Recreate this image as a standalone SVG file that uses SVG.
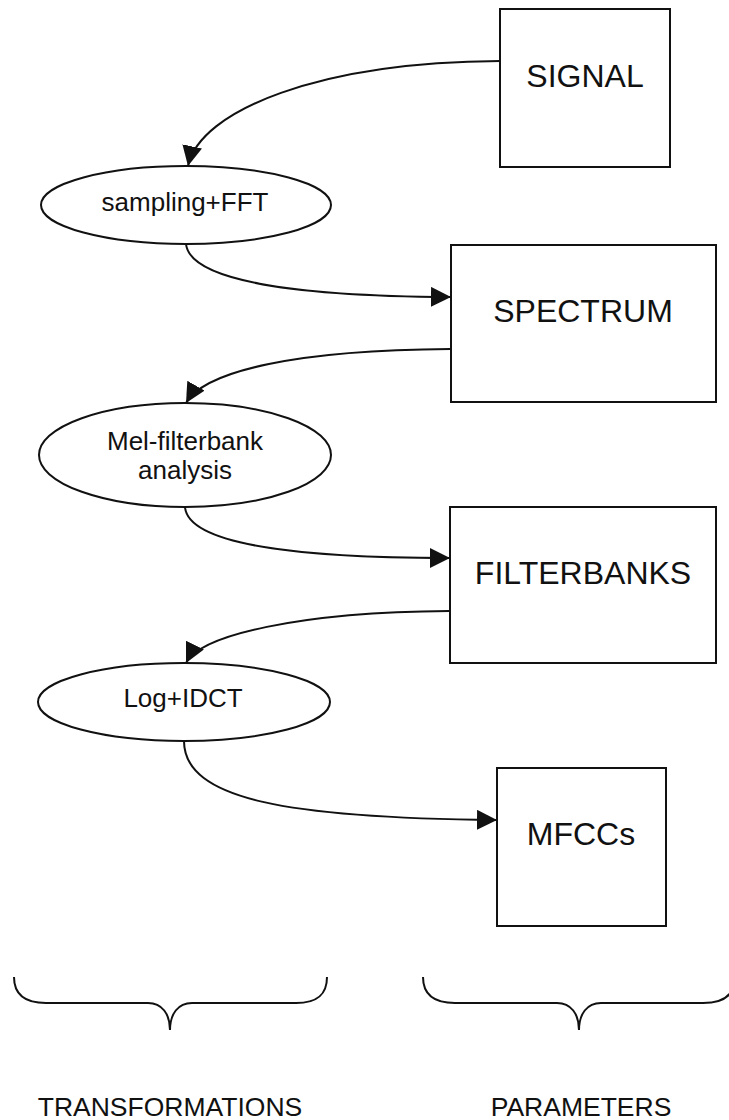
<svg xmlns="http://www.w3.org/2000/svg" width="729" height="1120" viewBox="0 0 729 1120">
<style>
.box{fill:none;stroke:#111;stroke-width:2}
.ell{fill:none;stroke:#111;stroke-width:2}
.con{fill:none;stroke:#111;stroke-width:2}
.brace{fill:none;stroke:#111;stroke-width:2}
.bt{font-family:"Liberation Sans",Arial,sans-serif;font-size:32px;fill:#111;text-anchor:middle}
.et{font-family:"Liberation Sans",Arial,sans-serif;font-size:26px;fill:#111;text-anchor:middle}
.lt{font-family:"Liberation Sans",Arial,sans-serif;font-size:26.5px;fill:#111;text-anchor:middle}
</style>
<defs>
<marker id="arr" markerUnits="userSpaceOnUse" markerWidth="24" markerHeight="22" refX="20" refY="10" orient="auto">
<path d="M0,0 L20,10 L0,20 z" fill="#111"/>
</marker>
</defs>
<rect width="729" height="1120" fill="#fff"/>
<g id="signal"><rect class="box" x="500" y="9" width="170" height="158"/><text class="bt" x="585" y="87">SIGNAL</text></g>
<g id="sampling"><ellipse class="ell" cx="186" cy="205" rx="145" ry="39"/><text class="et" x="185" y="211">sampling+FFT</text></g>
<g id="spectrum"><rect class="box" x="451" y="245" width="265" height="157"/><text class="bt" x="583" y="322">SPECTRUM</text></g>
<g id="melfilter"><ellipse class="ell" cx="185" cy="455" rx="146" ry="52"/><text class="et" x="185" y="450">Mel-filterbank</text><text class="et" x="185" y="479">analysis</text></g>
<g id="filterbanks"><rect class="box" x="450" y="507" width="266" height="156"/><text class="bt" x="583" y="584">FILTERBANKS</text></g>
<g id="logidct"><ellipse class="ell" cx="184" cy="702" rx="146" ry="39"/><text class="et" x="183" y="707">Log+IDCT</text></g>
<g id="mfccs"><rect class="box" x="497" y="768" width="169" height="158"/><text class="bt" x="581" y="845">MFCCs</text></g>
<g id="connectors">
<path class="con" marker-end="url(#arr)" d="M500,61 C320,62 200,110 188,166"/>
<path class="con" marker-end="url(#arr)" d="M186,244 C190,280 290,296 451,297"/>
<path class="con" marker-end="url(#arr)" d="M450,349 C300,350 205,370 186,403"/>
<path class="con" marker-end="url(#arr)" d="M185,507 C188,545 300,558 450,558"/>
<path class="con" marker-end="url(#arr)" d="M449,611 C300,612 200,635 186,663"/>
<path class="con" marker-end="url(#arr)" d="M184,741 C184,800 290,818 497,820"/>
</g>
<g id="braces">
<path class="brace" d="M14,977 C14,995 25,1003 46,1003 L148,1003 C162,1003 170,1014 170,1030 C170,1014 178,1003 192,1003 L296,1003 C317,1003 327,995 327,977"/>
<path class="brace" d="M423,977 C423,995 434,1003 455,1003 L557,1003 C571,1003 579,1014 579,1030 C579,1014 587,1003 601,1003 L703,1003 C724,1003 735,995 735,977"/>
</g>
<g id="labels">
<text class="lt" x="170" y="1116">TRANSFORMATIONS</text>
<text class="lt" x="581" y="1116">PARAMETERS</text>
</g>
</svg>
